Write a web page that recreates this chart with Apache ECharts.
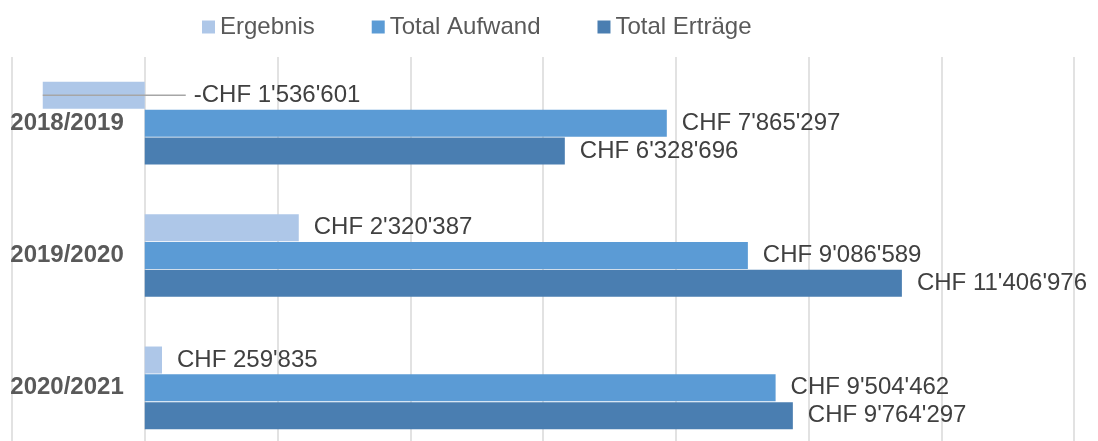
<!DOCTYPE html>
<html>
<head>
<meta charset="utf-8">
<script src="https://cdn.jsdelivr.net/npm/echarts@6/dist/echarts.min.js"></script>
<style>
  html, body { margin: 0; padding: 0; background: #fff; }
  #chart { width: 1098px; height: 441px; }
</style>
</head>
<body>
<div id="chart"></div>
<script>
(function () {
  "use strict";

  var FONT = "'Liberation Sans', Arial, sans-serif";
  var GRID = "#d9d9d9";
  var GRID_LEFT = 12;

  var years = ["2018/2019", "2019/2020", "2020/2021"];
  var ergebnis = [-1536601, 2320387, 259835];
  var aufwand = [7865297, 9086589, 9504462];
  var ertraege = [6328696, 11406976, 9764297];
  var seriesNames = ["Ergebnis", "Total Aufwand", "Total Erträge"];
  var colors = ["#aec7e8", "#5b9bd5", "#4a7eb1"];

  function chf(v) {
    var s = Math.abs(v).toString().replace(/\B(?=(\d{3})+(?!\d))/g, "'");
    return (v < 0 ? "-" : "") + "CHF " + s;
  }

  var chart = echarts.init(document.getElementById("chart"));

  var label = {
    show: true,
    position: "right",
    distance: 15,
    color: "#404040",
    fontFamily: FONT,
    fontSize: 24,
    formatter: function (p) { return chf(p.value); }
  };

  function bars(name, data, color) {
    return {
      name: name,
      type: "bar",
      data: data,
      barWidth: 27,
      barGap: "3%",
      itemStyle: { color: color },
      label: label,
      emphasis: { disabled: true }
    };
  }

  var ergSeries = bars(seriesNames[0], ergebnis, colors[0]);
  // negative result: label sits right of the zero line, joined by a leader line
  ergSeries.labelLayout = function (p) {
    if (ergebnis[p.dataIndex] >= 0) return {};
    return {
      x: p.rect.x + p.rect.width + 49,
      y: p.rect.y + p.rect.height / 2,
      align: "left",
      verticalAlign: "middle"
    };
  };

  var leaders = [];
  ergebnis.forEach(function (v, i) { if (v < 0) leaders.push([v, i]); });

  chart.setOption({
    animation: false,
    backgroundColor: "#fff",
    color: colors,
    legend: {
      data: seriesNames,
      left: 197,
      top: 10,
      itemWidth: 13,
      itemHeight: 13,
      itemGap: 57,
      icon: "rect",
      textStyle: { color: "#595959", fontFamily: FONT, fontSize: 24 }
    },
    grid: { left: GRID_LEFT, right: 24, top: 57, height: 397, outerBoundsMode: "none", containLabel: false },
    xAxis: {
      type: "value",
      min: -2000000,
      max: 14000000,
      interval: 2000000,
      axisLine: { show: false },
      axisTick: { show: false },
      axisLabel: { show: false },
      splitLine: { lineStyle: { color: GRID, width: 1.5 } }
    },
    yAxis: {
      type: "category",
      data: years,
      inverse: true,
      axisLine: { show: false },
      axisTick: { show: false },
      axisLabel: {
        margin: 21,
        color: "#595959",
        fontFamily: FONT,
        fontSize: 24,
        fontWeight: "bold",
        padding: [3, 0, 0, 0]
      }
    },
    series: [
      ergSeries,
      bars(seriesNames[1], aufwand, colors[1]),
      bars(seriesNames[2], ertraege, colors[2]),
      {
        type: "custom",
        data: leaders,
        z: 5,
        silent: true,
        renderItem: function (params, api) {
          var end = api.coord([api.value(0), api.value(1)]);
          var zero = api.coord([0, api.value(1)]);
          var y = end[1] - 27.8;
          return {
            type: "line",
            shape: { x1: end[0], y1: y, x2: zero[0] + 41, y2: y },
            style: { stroke: "#a6a6a6", lineWidth: 1.5 }
          };
        }
      }
    ]
  });

  // move the category labels next to the zero line
  var zeroX = chart.convertToPixel({ xAxisIndex: 0 }, 0);
  chart.setOption({ yAxis: { offset: -(zeroX - GRID_LEFT) } });
})();
</script>
</body>
</html>
